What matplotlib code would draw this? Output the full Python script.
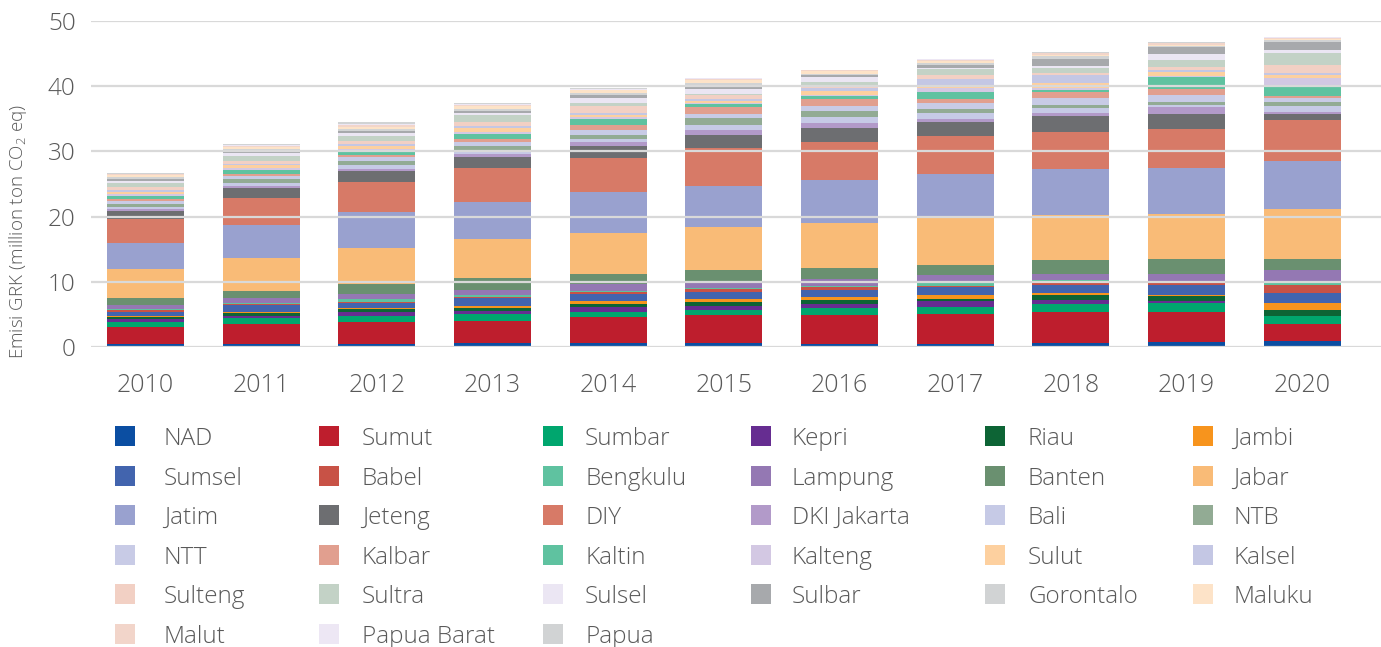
import numpy as np
import matplotlib
matplotlib.use("Agg")
import matplotlib.pyplot as plt
from matplotlib.patches import Rectangle

plt.rcParams['font.family'] = ['Open Sans', 'DejaVu Sans']
plt.rcParams['mathtext.default'] = 'regular'

years = ["2010", "2011", "2012", "2013", "2014", "2015", "2016", "2017", "2018", "2019", "2020"]

# values in million ton CO2 eq, per province (stacking order bottom -> top)
NAD      = [0.46, 0.50, 0.50, 0.56, 0.55, 0.55, 0.50, 0.50, 0.56, 0.77, 0.87]
Sumut    = [2.60, 3.00, 3.30, 3.50, 4.00, 4.30, 4.45, 4.60, 4.75, 4.55, 2.60]
Sumbar   = [0.77, 0.90, 0.90, 1.00, 0.77, 0.90, 1.07, 1.07, 1.23, 1.38, 1.23]
Kepri    = [0.46, 0.30, 0.60, 0.50, 0.77, 0.60, 0.60, 0.92, 0.60, 0.30, 0.10]
Riau     = [0.30, 0.46, 0.46, 0.45, 0.46, 0.60, 0.60, 0.30, 0.77, 0.77, 0.92]
Jambi    = [0.15, 0.15, 0.15, 0.30, 0.46, 0.46, 0.46, 0.60, 0.30, 0.15, 1.07]
Sumsel   = [0.60, 1.07, 0.90, 1.20, 1.10, 1.07, 1.07, 1.23, 1.23, 1.53, 1.53]
Babel    = [0.30, 0.15, 0.15, 0.10, 0.25, 0.46, 0.46, 0.15, 0.46, 0.30, 1.20]
Bengkulu = [0.15, 0.15, 0.46, 0.30, 0.30, 0.05, 0.15, 0.46, 0.30, 0.20, 0.30]
Lampung  = [0.60, 0.77, 0.77, 0.90, 1.00, 1.07, 1.07, 1.22, 1.07, 1.20, 2.00]
Banten   = [1.20, 1.20, 1.53, 1.70, 1.50, 1.70, 1.70, 1.53, 2.00, 2.30, 1.70]
Jabar    = [4.30, 5.06, 5.50, 6.00, 6.30, 6.60, 6.90, 7.20, 7.05, 6.90, 7.67]
Jatim    = [4.10, 5.06, 5.50, 5.80, 6.30, 6.40, 6.60, 6.75, 7.05, 7.05, 7.36]
DIY      = [3.70, 4.14, 4.60, 5.10, 5.20, 5.70, 5.80, 5.83, 5.67, 6.00, 6.29]
Jeteng   = [1.20, 1.53, 1.70, 1.70, 1.85, 2.00, 2.15, 2.15, 2.45, 2.30, 0.92]
DKI      = [0.30, 0.25, 0.30, 0.50, 0.60, 0.77, 0.77, 0.46, 0.46, 1.07, 0.30]
Bali     = [0.30, 0.45, 0.60, 0.30, 0.45, 0.77, 0.92, 0.92, 0.77, 0.30, 0.90]
NTB      = [0.50, 0.60, 0.60, 0.85, 0.60, 1.07, 0.92, 0.60, 0.46, 0.46, 0.60]
NTT      = [0.45, 0.45, 0.60, 0.75, 0.75, 0.60, 0.77, 0.92, 1.07, 1.07, 0.60]
Kalbar   = [0.30, 0.30, 0.30, 0.40, 0.90, 1.07, 1.07, 0.60, 0.90, 0.90, 0.30]
Kaltin   = [0.45, 0.60, 0.60, 0.80, 0.90, 0.46, 0.46, 1.07, 0.30, 1.84, 1.70]
Kalteng  = [0.20, 0.30, 0.30, 0.30, 0.30, 0.20, 0.20, 0.60, 0.30, 0.20, 1.07]
Sulut    = [0.45, 0.45, 0.50, 0.55, 0.30, 0.30, 0.60, 0.46, 0.77, 0.60, 0.46]
Kalsel   = [0.20, 0.30, 0.30, 0.30, 0.30, 0.30, 0.50, 0.92, 1.20, 0.30, 0.30]
Sulteng  = [0.45, 0.40, 0.45, 0.65, 1.05, 0.70, 0.30, 0.60, 0.30, 0.46, 1.30]
Sultra   = [0.60, 0.75, 0.75, 1.00, 0.45, 0.15, 0.60, 1.00, 0.80, 1.07, 1.80]
Sulsel   = [0.30, 0.40, 0.45, 0.35, 0.75, 0.77, 0.75, 0.20, 0.30, 0.90, 0.50]
Sulbar   = [0.40, 0.35, 0.40, 0.30, 0.45, 0.46, 0.30, 0.46, 1.07, 1.07, 1.23]
Gorontalo= [0.25, 0.30, 0.30, 0.30, 0.30, 0.46, 0.15, 0.30, 0.46, 0.20, 0.30]
Maluku   = [0.30, 0.30, 0.30, 0.45, 0.45, 0.46, 0.46, 0.30, 0.10, 0.15, 0.10]
Malut    = [0.15, 0.20, 0.30, 0.20, 0.10, 0.10, 0.10, 0.10, 0.30, 0.30, 0.20]
PapuaBarat = [0.10, 0.15, 0.20, 0.15, 0.10, 0.10, 0.05, 0.10, 0.10, 0.10, 0.10]
Papua    = [0.10, 0.20, 0.20, 0.15, 0.10, 0.10, 0.05, 0.10, 0.10, 0.10, 0.10]

# (label, values, colour) in stacking order
series = [
    ("NAD", NAD, "#0b4ea2"), ("Sumut", Sumut, "#be1e2d"), ("Sumbar", Sumbar, "#00a66e"),
    ("Kepri", Kepri, "#662d91"), ("Riau", Riau, "#0d6435"), ("Jambi", Jambi, "#f7941d"),
    ("Sumsel", Sumsel, "#4264ae"), ("Babel", Babel, "#c85246"), ("Bengkulu", Bengkulu, "#5fc2a0"),
    ("Lampung", Lampung, "#9478b3"), ("Banten", Banten, "#6a9070"), ("Jabar", Jabar, "#f9bb77"),
    ("Jatim", Jatim, "#99a1cf"), ("DIY", DIY, "#d77a67"), ("Jeteng", Jeteng, "#6d6e71"),
    ("DKI Jakarta", DKI, "#b29ac9"), ("Bali", Bali, "#c6cae6"), ("NTB", NTB, "#92ab94"),
    ("NTT", NTT, "#c8cbe6"), ("Kalbar", Kalbar, "#e19f8f"), ("Kaltin", Kaltin, "#5fc2a0"),
    ("Kalteng", Kalteng, "#d3c8e3"), ("Sulut", Sulut, "#fdd09f"), ("Kalsel", Kalsel, "#c4c7e4"),
    ("Sulteng", Sulteng, "#f2d0c4"), ("Sultra", Sultra, "#c3d2c6"), ("Sulsel", Sulsel, "#ebe6f3"),
    ("Sulbar", Sulbar, "#a7a9ac"), ("Gorontalo", Gorontalo, "#d1d3d4"), ("Maluku", Maluku, "#fde3c8"),
    ("Malut", Malut, "#f2d5ca"), ("Papua Barat", PapuaBarat, "#ede7f4"), ("Papua", Papua, "#d1d3d4"),
]
legend_order = ["NAD", "Sumut", "Sumbar", "Kepri", "Riau", "Jambi",
                "Sumsel", "Babel", "Bengkulu", "Lampung", "Banten", "Jabar",
                "Jatim", "Jeteng", "DIY", "DKI Jakarta", "Bali", "NTB",
                "NTT", "Kalbar", "Kaltin", "Kalteng", "Sulut", "Kalsel",
                "Sulteng", "Sultra", "Sulsel", "Sulbar", "Gorontalo", "Maluku",
                "Malut", "Papua Barat", "Papua"]

TXT = "#595959"
FW = "light"
W, H = 1381, 647
fig = plt.figure(figsize=(W / 100, H / 100), dpi=100)
ax = fig.add_axes([91 / W, (H - 347) / H, (1381 - 91) / W, (347 - 21) / H])

x = np.arange(len(years))
bottom = np.zeros(len(years))
colors = {}
for name, vals, col in series:
    v = np.array(vals)
    ax.bar(x, v, width=0.665, bottom=bottom, color=col, edgecolor="none", zorder=1)
    bottom += v
    colors[name] = col

ax.set_ylim(0, 50)
ax.set_xlim(-0.47, 10.68)
ax.set_yticks([0, 10, 20, 30, 40, 50])
ax.set_xticks(x)
ax.set_xticklabels(years)
ax.set_axisbelow(False)
ax.yaxis.grid(True, color="#d9d9d9", lw=1.6)
for s in ax.spines.values():
    s.set_visible(False)
ax.tick_params(axis="y", length=0, pad=11, labelsize=17.5, labelcolor=TXT)
ax.tick_params(axis="x", length=0, pad=19, labelsize=18, labelcolor=TXT)
for lab in ax.get_xticklabels() + ax.get_yticklabels():
    lab.set_fontweight(FW)

fig.text(18 / W, (H - 232) / H, r"Emisi GRK (million ton CO$_2$ eq)", rotation=90,
         ha="center", va="center", fontsize=13.5, color=TXT, fontweight=FW)

# legend (row-major, 6 columns)
sq_x = [115, 319, 543, 751, 985, 1193]
tx_x = [164, 362, 585, 792, 1028, 1233]
row_y0, row_dy = 436, 39.6
for i, name in enumerate(legend_order):
    r, c = divmod(i, 6)
    yc = row_y0 + r * row_dy
    fig.patches.append(Rectangle((sq_x[c] / W, (H - yc - 10) / H), 20 / W, 20 / H,
                                 transform=fig.transFigure, facecolor=colors[name],
                                 edgecolor="none"))
    fig.text(tx_x[c] / W, (H - yc) / H, name, ha="left", va="center_baseline",
             fontsize=17.5, color=TXT, fontweight=FW)

fig.savefig("out.png", dpi=100)
